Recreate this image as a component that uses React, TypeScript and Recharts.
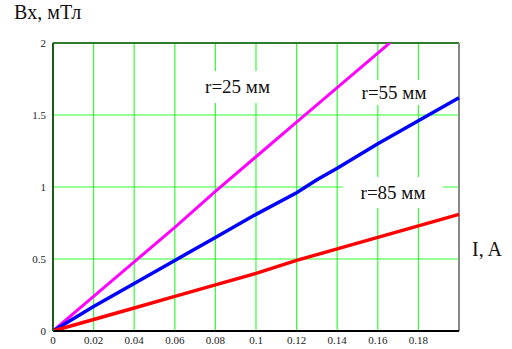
import { LineChart, Line, XAxis, YAxis, CartesianGrid, ReferenceLine } from 'recharts';

// current, A
const currents = [0, 0.02, 0.04, 0.06, 0.08, 0.1, 0.12, 0.13, 0.14, 0.16, 0.18, 0.2];
// Bx, mT for each radius
const bR25 = [0, 0.24, 0.48, 0.72, 0.97, 1.21, 1.45, 1.57, 1.69, 1.93, 2.17, 2.41];
const bR55 = [0, 0.17, 0.33, 0.49, 0.65, 0.81, 0.96, 1.05, 1.13, 1.3, 1.46, 1.62];
const bR85 = [0, 0.08, 0.16, 0.24, 0.32, 0.4, 0.49, 0.53, 0.57, 0.65, 0.73, 0.81];

const xTicks = [0, 0.02, 0.04, 0.06, 0.08, 0.1, 0.12, 0.14, 0.16, 0.18];
const yTicks = [0, 0.5, 1, 1.5, 2];

const seriesLabels = [
  { text: 'r=25 мм', left: 185, top: 71, width: 105, height: 32 },
  { text: 'r=55 мм', left: 348, top: 80, width: 92, height: 25 },
  { text: 'r=85 мм', left: 343, top: 177, width: 100, height: 31 },
];

const data = currents.map((x, i) => ({ x, r25: bR25[i], r55: bR55[i], r85: bR85[i] }));

const serif = '"Liberation Serif", "Times New Roman", serif';

export default function App() {
  return (
    <div
      className="mcad-plot"
      style={{ position: 'absolute', left: 0, top: 0, width: 512, height: 349, background: '#fff', fontFamily: serif }}
    >
      <style>{`.mcad-plot, .mcad-plot text, .mcad-plot div { font-family: ${serif}; }`}</style>
      <LineChart width={512} height={349} data={data} margin={{ top: 43, right: 53, left: 13, bottom: 0 }}>
        <CartesianGrid stroke="#33ff33" strokeWidth={1.2} />
        <XAxis
          dataKey="x"
          type="number"
          domain={[0, 0.2]}
          ticks={xTicks}
          height={18}
          tickSize={0}
          tickMargin={5}
          axisLine={{ stroke: '#000', strokeWidth: 2 }}
          tick={{ fill: '#222', fontSize: 11, fontFamily: serif }}
        />
        <YAxis
          type="number"
          domain={[0, 2]}
          ticks={yTicks}
          allowDataOverflow
          width={40}
          tickSize={0}
          tickMargin={7}
          axisLine={{ stroke: '#1a5c1a', strokeWidth: 2 }}
          tick={{ fill: '#222', fontSize: 11, fontFamily: serif }}
        />
        <ReferenceLine y={2} stroke="#2e7d2e" strokeWidth={2} />
        <ReferenceLine x={0.2} stroke="#888" strokeWidth={2} />
        <Line dataKey="r25" stroke="#ff00ff" strokeWidth={3} dot={false} type="linear" isAnimationActive={false} />
        <Line dataKey="r55" stroke="#0000ff" strokeWidth={3.5} dot={false} type="linear" isAnimationActive={false} />
        <Line dataKey="r85" stroke="#ff0000" strokeWidth={3.5} dot={false} type="linear" isAnimationActive={false} />
      </LineChart>

      <div style={{ position: 'absolute', left: 14, top: 1, fontSize: 20, color: '#111' }}>Bx, мТл</div>
      <div style={{ position: 'absolute', left: 472, top: 238, fontSize: 20, color: '#111' }}>I, A</div>

      {seriesLabels.map((l) => (
        <div
          key={l.text}
          style={{
            position: 'absolute',
            left: l.left,
            top: l.top,
            width: l.width,
            height: l.height,
            background: '#fff',
            display: 'flex',
            alignItems: 'center',
            justifyContent: 'center',
            fontSize: 19,
            color: '#111',
          }}
        >
          {l.text}
        </div>
      ))}
    </div>
  );
}
